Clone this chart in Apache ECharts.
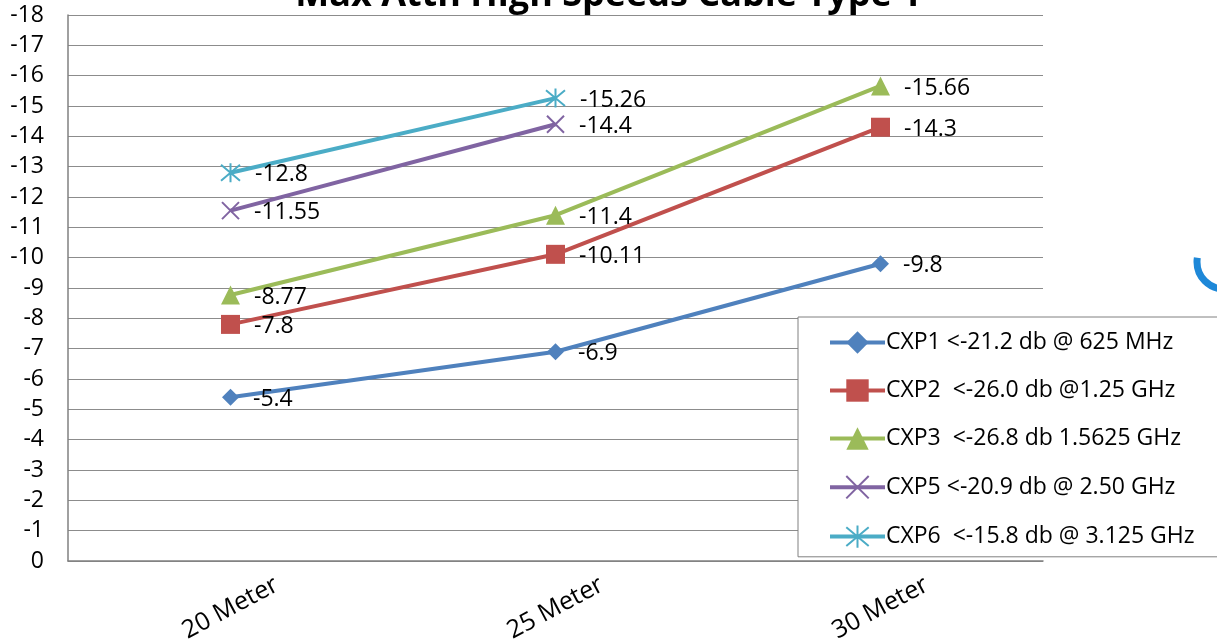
<!DOCTYPE html>
<html><head><meta charset="utf-8">
<script src="https://cdn.jsdelivr.net/npm/echarts@6/dist/echarts.min.js"></script>
<style>html,body{margin:0;padding:0;background:#fff}#c{width:1217px;height:641px}</style>
</head><body><div id="c"></div>
<script>
const categories = ['20 Meter', '25 Meter', '30 Meter'];
const seriesNames = ['CXP1 <-21.2 db @ 625 MHz', 'CXP2  <-26.0 db @1.25 GHz', 'CXP3  <-26.8 db 1.5625 GHz', 'CXP5 <-20.9 db @ 2.50 GHz', 'CXP6  <-15.8 db @ 3.125 GHz'];
const cxp1 = [-5.4, -6.9, -9.8];
const cxp2 = [-7.8, -10.11, -14.3];
const cxp3 = [-8.77, -11.4, -15.66];
const cxp5 = [-11.55, -14.4, null];
const cxp6 = [-12.8, -15.26, null];
const yMin = -18, yMax = 0, yStep = 1;

const colors = ['#4F81BD', '#C0504D', '#9BBB59', '#8064A2', '#4BACC6'];
const xPath = 'path://M0,0 L10,10 M10,0 L0,10';
const starPath = 'path://M0,0 L10,10 M10,0 L0,10 M5,-1 L5,11';
const symbols = ['diamond', 'rect', 'triangle', xPath, starPath];
const sizes = [17, 19, 19, 17, 19];
const dataSets = [cxp1, cxp2, cxp3, cxp5, cxp6];
const font = '"Open Sans", "Noto Sans", sans-serif';

const chart = echarts.init(document.getElementById('c'));
chart.setOption({
  animation: false,
  title: {
    text: 'Max Attn High Speeds Cable Type 1',
    left: 'center', top: -27,
    textStyle: {fontSize: 36, fontWeight: 'bold', color: '#000', fontFamily: font}
  },
  grid: {left: 68, right: 174, top: 15, bottom: 80, containLabel: false, outerBoundsMode: 'none'},
  legend: {
    orient: 'vertical', left: 798, top: 317,
    padding: [14, 60, 8, 30],
    backgroundColor: '#fff', borderColor: '#808080', borderWidth: 1, borderRadius: 0,
    itemWidth: 55, itemHeight: 28, itemGap: 25,
    lineStyle: {width: 4},
    textStyle: {fontSize: 23, color: '#000', fontFamily: font, padding: [0,0,0,-4]},
    data: seriesNames
  },
  xAxis: {
    type: 'category', data: categories, boundaryGap: true,
    axisLine: {lineStyle: {color: '#808080', width: 1.5}},
    axisTick: {inside: true, length: 8, lineStyle: {color: '#808080'}},
    axisLabel: {rotate: 28, align: 'center', verticalAlign: 'middle', margin: 47, fontSize: 25, color: '#000', fontFamily: font}
  },
  yAxis: {
    type: 'value', min: yMin, max: yMax, interval: yStep, inverse: true,
    axisLine: {show: true, lineStyle: {color: '#808080', width: 1.5}},
    axisTick: {show: false},
    splitLine: {lineStyle: {color: '#8c8c8c', width: 1.2}},
    axisLabel: {fontSize: 23, color: '#000', margin: 24, fontFamily: font}
  },
  graphic: [{
    type: 'arc', shape: {cx: 1224, cy: 262, r: 27, startAngle: Math.PI * 0.5, endAngle: Math.PI * 1.05},
    style: {stroke: '#1E88D8', lineWidth: 7, fill: null}, z: -1
  }],
  series: dataSets.map((d, i) => ({
    name: seriesNames[i], type: 'line', data: d,
    symbol: symbols[i], symbolSize: sizes[i],
    lineStyle: {color: colors[i], width: 4},
    itemStyle: {color: colors[i], borderColor: colors[i], borderWidth: (i >= 3 ? 2 : 0)},
    label: {show: true, position: 'right', distance: 14, offset: [0, 2], fontSize: 23, color: '#000', fontFamily: font},
    emphasis: {disabled: true},
    z: 2 + i
  }))
});
</script></body></html>
